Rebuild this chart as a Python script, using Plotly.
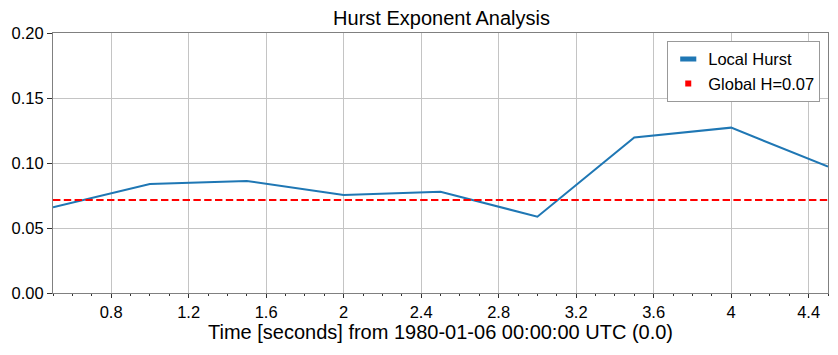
import plotly.graph_objects as go

times = [0.5, 1.0, 1.5, 2.0, 2.5, 3.0, 3.5, 4.0, 4.5]
local_hurst = [0.0659, 0.0838, 0.0862, 0.0754, 0.0779, 0.0587, 0.1197, 0.1272, 0.0972]
global_h = 0.0715
global_label = "Global H=0.07"
local_label = "Local Hurst"
x_ticks = [0.8, 1.2, 1.6, 2.0, 2.4, 2.8, 3.2, 3.6, 4.0, 4.4]
x_ticklabels = ["0.8", "1.2", "1.6", "2", "2.4", "2.8", "3.2", "3.6", "4", "4.4"]
y_ticks = [0.0, 0.05, 0.10, 0.15, 0.20]
y_ticklabels = ["0.00", "0.05", "0.10", "0.15", "0.20"]

FONT = "Liberation Sans, Arial, sans-serif"
BLUE = "#1f77b4"

fig = go.Figure()
fig.add_trace(go.Scatter(x=times, y=local_hurst, mode="lines",
                         line=dict(color=BLUE, width=2), showlegend=False))
fig.add_trace(go.Scatter(x=[times[0], times[-1]], y=[global_h, global_h], mode="lines",
                         line=dict(color="red", width=2, dash="7.4px,3.4px"), showlegend=False))
# legend proxies
fig.add_trace(go.Scatter(x=[None], y=[None], mode="markers", name=local_label,
                         marker=dict(color=BLUE, symbol="line-ew", size=11.5,
                                     line=dict(color=BLUE, width=5))))
fig.add_trace(go.Scatter(x=[None], y=[None], mode="markers", name=global_label,
                         marker=dict(color="red", symbol="square", size=6,
                                     line=dict(width=0))))

axis_common = dict(showline=True, linecolor="#808080", linewidth=1, mirror=True,
                   showgrid=True, gridcolor="#c4c4c4", gridwidth=1, zeroline=False,
                   ticks="outside", tickcolor="#333333",
                   tickfont=dict(family=FONT, size=16.5, color="black"))

fig.update_layout(
    width=838, height=355,
    margin=dict(l=53, r=10, t=33, b=62),
    paper_bgcolor="white", plot_bgcolor="white",
    font=dict(family=FONT, color="black"),
    title=dict(text="Hurst Exponent Analysis", x=441.5 / 838, xanchor="center",
               y=1 - 18 / 355, yanchor="middle", font=dict(family=FONT, size=20)),
    xaxis=dict(type="linear", range=[0.5, 4.5], tickvals=x_ticks, ticktext=x_ticklabels,
               ticklen=4,
               minor=dict(dtick=0.1, tick0=0, ticks="outside", ticklen=2, tickcolor="#333333",
                          showgrid=False),
               title=dict(text="Time [seconds] from 1980-01-06 00:00:00 UTC (0.0)",
                          font=dict(family=FONT, size=20), standoff=4),
               **axis_common),
    yaxis=dict(range=[0, 0.2], tickvals=y_ticks, ticktext=y_ticklabels, ticklen=5,
               **axis_common),
    legend=dict(x=0.99, y=0.97, xanchor="right", yanchor="top",
                bgcolor="white", bordercolor="#999999", borderwidth=1,
                font=dict(family=FONT, size=16.5), itemwidth=30),
    showlegend=True,
)

fig.write_html("out.html")
